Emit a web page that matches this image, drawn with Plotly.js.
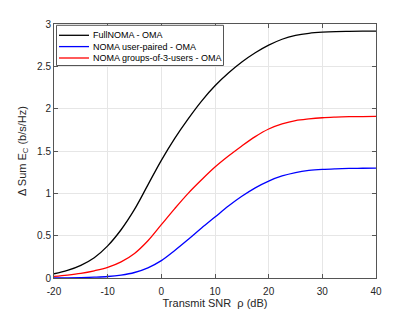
<!DOCTYPE html>
<html>
<head>
<meta charset="utf-8">
<script src="https://cdn.plot.ly/plotly-3.0.1.min.js"></script>
<style>html,body{margin:0;padding:0;background:#fff;}#chart{width:415px;height:312px;}</style>
</head>
<body>
<div id="chart"></div>
<script>
const snr = [-20,-17.5,-15,-12.5,-10,-7.5,-5,-2.5,0,2.5,5,7.5,10,12.5,15,17.5,20,22.5,25,27.5,30,32.5,35,37.5,40];
const fullNoma = [0.05,0.09,0.15,0.24,0.38,0.57,0.81,1.10,1.39,1.65,1.88,2.09,2.27,2.42,2.55,2.66,2.75,2.82,2.865,2.89,2.903,2.91,2.913,2.915,2.916];
const userPaired = [0.0,0.002,0.005,0.01,0.018,0.035,0.065,0.12,0.205,0.325,0.455,0.59,0.72,0.85,0.965,1.065,1.145,1.205,1.245,1.27,1.283,1.29,1.294,1.296,1.298];
const groups3 = [0.02,0.035,0.055,0.085,0.125,0.19,0.29,0.44,0.63,0.82,1.00,1.16,1.31,1.44,1.56,1.67,1.76,1.82,1.86,1.88,1.893,1.9,1.905,1.907,1.91];
const names = ['FullNOMA - OMA','NOMA user-paired - OMA','NOMA groups-of-3-users - OMA'];
const colors = ['#000000','#0000ff','#ff0000'];
const xTicks = [-20,-10,0,10,20,30,40];
const yTicks = [0,0.5,1,1.5,2,2.5,3];
const yTickText = ['0','0.5','1','1.5','2','2.5','3'];

const fam = 'Liberation Sans, Arial, sans-serif';
const font = {family:fam, size:10, color:'#262626'};
const series = [fullNoma, userPaired, groups3];
const data = series.map((y,i) => ({x:snr, y:y, name:names[i], type:'scatter', mode:'lines',
  line:{color:colors[i], width:1.3, shape:'spline', smoothing:1}, showlegend:false}));

// legend drawn in paper coordinates (plot area 54..376 x 24..278 px)
const px = v => (v-54)/322, py = v => (278-v)/254;
const rowY = [35.3, 46.6, 58];
const shapes = [{type:'rect', xref:'paper', yref:'paper', x0:px(56.5), x1:px(223.5), y0:py(65.5), y1:py(25.3),
  line:{color:'#555555', width:1}, fillcolor:'#ffffff', layer:'above'}];
const annotations = [];
names.forEach((n,i) => {
  shapes.push({type:'line', xref:'paper', yref:'paper', x0:px(59), x1:px(89), y0:py(rowY[i]), y1:py(rowY[i]),
    line:{color:colors[i], width:1.3}, layer:'above'});
  annotations.push({xref:'paper', yref:'paper', x:px(91), y:py(rowY[i]), xanchor:'left', yanchor:'middle',
    text:n, showarrow:false, font:{family:fam, size:9, color:'#000000'}});
});

const axisCommon = {showline:true, linecolor:'#555555', linewidth:1, mirror:'ticks', ticks:'inside', ticklen:4,
  tickcolor:'#555555', showgrid:true, gridcolor:'#e6e6e6', gridwidth:1, zeroline:false, tickfont:font};
const layout = {
  width:415, height:312, margin:{l:54, r:39, t:24, b:34},
  paper_bgcolor:'#ffffff', plot_bgcolor:'#ffffff', font:font, showlegend:false,
  xaxis:Object.assign({}, axisCommon, {range:[-20,40], tickvals:xTicks, ticktext:xTicks.map(String), ticklabelstandoff:4,
    title:{text:'Transmit SNR  \u03c1 (dB)', font:{family:fam, size:11, color:'#262626'}, standoff:3}}),
  yaxis:Object.assign({}, axisCommon, {range:[0,3], tickvals:yTicks, ticktext:yTickText,
    title:{text:'\u0394 Sum E<sub>C</sub> (b/s/Hz)', font:{family:fam, size:11, color:'#262626'}, standoff:8}}),
  shapes:shapes, annotations:annotations
};
Plotly.newPlot('chart', data, layout, {displayModeBar:false, staticPlot:true});
</script>
</body>
</html>
